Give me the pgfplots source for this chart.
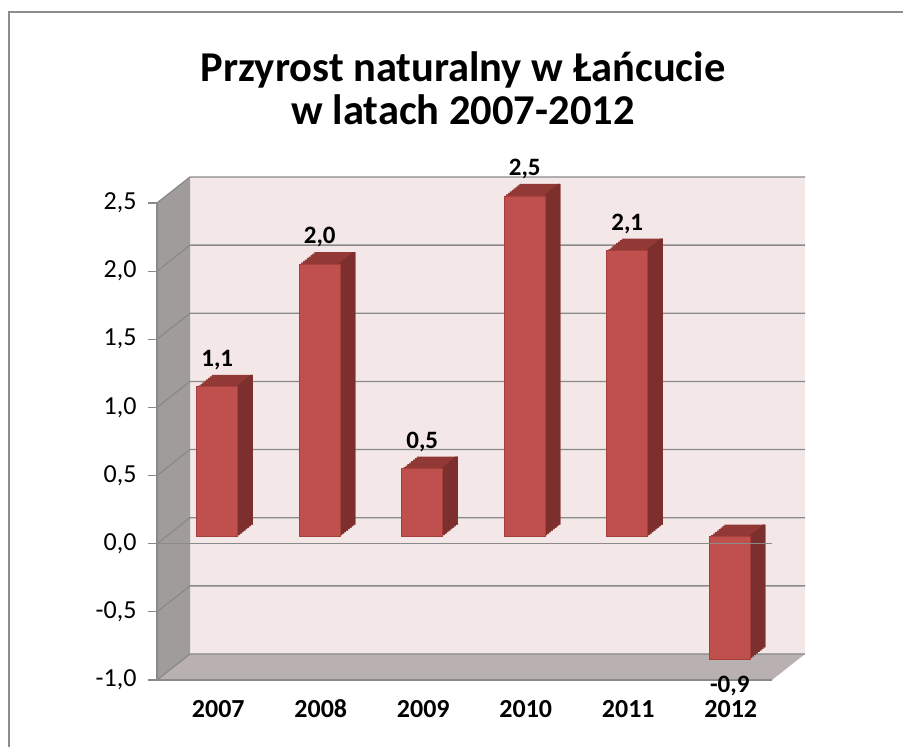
\documentclass[border=0pt]{standalone}
\usepackage{fontspec}
\setmainfont{Carlito}
\usepackage{pgfplots}
\usepackage{pgfplotstable}
\pgfplotsset{compat=1.18}
\definecolor{wallpink}{HTML}{F3E7E7}
\definecolor{leftwall}{HTML}{A19C9C}
\definecolor{floorc}{HTML}{B9B1B1}
\definecolor{gridc}{HTML}{8A8A8A}
\definecolor{barfront}{HTML}{C0504D}
\definecolor{bartop}{HTML}{923835}
\definecolor{barside}{HTML}{7D2F2D}
\definecolor{baredge}{HTML}{A5403D}
\definecolor{framec}{HTML}{8C8C8C}

\pgfplotstableread{
x y
0 1.1
1 2.0
2 0.5
3 2.5
4 2.1
5 -0.9
}\datatable

\begin{document}
\begin{tikzpicture}[x=1pt,y=1pt]
\useasboundingbox (0,0) rectangle (903,747);
\draw[framec, line width=2pt] (9,-2) -- (9,735) -- (905,735);
\node[font=\bfseries\fontsize{42.5}{48}\selectfont, anchor=base, inner sep=0pt] at (463,665) {Przyrost naturalny w Łańcucie};
\node[font=\bfseries\fontsize{42.5}{48}\selectfont, anchor=base, inner sep=0pt] at (463,622) {w latach 2007-2012};
\begin{axis}[
  at={(157pt,67pt)}, anchor=south west,
  width=615pt, height=477pt, scale only axis,
  xmin=-0.5, xmax=5.5, ymin=-1, ymax=2.5,
  clip=false,
  axis line style={draw=none},
  ytick={-1,-0.5,0,0.5,1,1.5,2,2.5},
  yticklabel={\pgfmathprintnumber[fixed,fixed zerofill,precision=1,use comma,assume math mode=true]{\tick}},
  yticklabel style={font=\fontsize{26}{30}\selectfont, xshift=-8pt},
  xtick={0,1,2,3,4,5},
  xticklabels={2007,2008,2009,2010,2011,2012},
  typeset ticklabels with strut,
  xticklabel style={font=\bfseries\fontsize{26}{30}\selectfont, xshift=10pt, yshift=-4pt},
  tick pos=left,
  tick align=outside,
  major tick length=9pt,
  ytick style={draw=gridc, line width=1.2pt},
  xtick style={draw=none},
]
% walls
\fill[wallpink] ([shift={(33pt,26pt)}]axis cs:-0.5,-1) rectangle ([shift={(33pt,26pt)}]axis cs:5.5,2.5);
\fill[leftwall] (axis cs:-0.5,-1) -- (axis cs:-0.5,2.5) -- ([shift={(33pt,26pt)}]axis cs:-0.5,2.5) -- ([shift={(33pt,26pt)}]axis cs:-0.5,-1) -- cycle;
\fill[floorc] (axis cs:-0.5,-1) -- (axis cs:5.5,-1) -- ([shift={(33pt,26pt)}]axis cs:5.5,-1) -- ([shift={(33pt,26pt)}]axis cs:-0.5,-1) -- cycle;
\pgfplotsinvokeforeach{-1,-0.5,0,0.5,1,1.5,2,2.5}{
  \draw[gridc, line width=1.3pt] (axis cs:-0.5,#1) -- ([shift={(33pt,26pt)}]axis cs:-0.5,#1) -- ([shift={(33pt,26pt)}]axis cs:5.5,#1);
}
\draw[gridc, line width=1.2pt] (axis cs:-0.5,2.5) -- (axis cs:-0.5,-1) -- (axis cs:5.5,-1);
% bar depth: top faces
\pgfplotsinvokeforeach{1,...,8}{
  \addplot[ybar, bar width=41pt, bar shift=0pt, fill=bartop, draw=none,
    xshift={9pt+#1*1.875pt}, yshift={7pt+#1*1.5pt}] table[x=x,y=y]{\datatable};
}
% side faces
\pgfplotsinvokeforeach{0,...,8}{
  \addplot[ybar, bar width=3pt, bar shift=19pt, fill=barside, draw=none,
    xshift={9pt+#1*1.875pt}, yshift={7pt+#1*1.5pt}] table[x=x,y=y]{\datatable};
}
% front faces
\addplot[ybar, bar width=41pt, bar shift=0pt, fill=barfront, draw=baredge, line width=0.8pt,
  xshift=9pt, yshift=7pt,
  nodes near coords={\pgfmathprintnumber[fixed,fixed zerofill,precision=1,use comma,assume math mode=true]{\pgfplotspointmeta}},
  nodes near coords align=vertical,
  every node near coord/.append style={font=\bfseries\fontsize{25}{30}\selectfont, inner sep=0pt, outer sep=17pt, text=black}
] table[x=x,y=y]{\datatable};
\draw[gridc, line width=1.3pt] (axis cs:-0.5,0) -- (axis cs:5.5,0);
\end{axis}
\end{tikzpicture}
\end{document}
